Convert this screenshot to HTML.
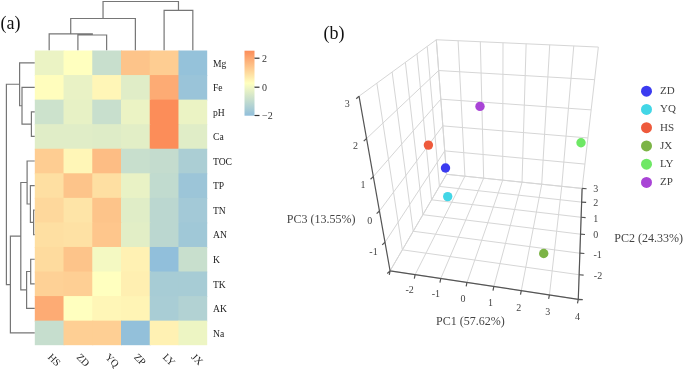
<!DOCTYPE html>
<html><head><meta charset="utf-8"><style>
html,body{margin:0;padding:0;background:#fff;}
body{width:685px;height:369px;overflow:hidden;}
svg{display:block;will-change:transform;}
text{font-family:"Liberation Serif",serif;}
.rl{font-size:9.6px;fill:#222;}
.cl{font-size:10.2px;fill:#222;}
.lt{font-size:10px;fill:#333;}
.pl{font-size:18px;fill:#111;}
.tl{font-size:10px;fill:#444;}
.at{font-size:12px;fill:#444;}
.lg{font-size:11px;fill:#444;}
</style></head><body>
<svg width="685" height="369" viewBox="0 0 685 369">
<rect width="685" height="369" fill="#fff"/>
<rect x="34.80" y="50.50" width="29.73" height="25.56" fill="#ebf3c4"/>
<rect x="63.53" y="50.50" width="29.73" height="25.56" fill="#ffffbf"/>
<rect x="92.27" y="50.50" width="29.73" height="25.56" fill="#c8dfcd"/>
<rect x="121.00" y="50.50" width="29.73" height="25.56" fill="#fdc48a"/>
<rect x="149.73" y="50.50" width="29.73" height="25.56" fill="#fecd92"/>
<rect x="178.47" y="50.50" width="28.73" height="25.56" fill="#95c2da"/>
<rect x="34.80" y="75.06" width="29.73" height="25.56" fill="#fffdbd"/>
<rect x="63.53" y="75.06" width="29.73" height="25.56" fill="#e9f2c5"/>
<rect x="92.27" y="75.06" width="29.73" height="25.56" fill="#fff6b7"/>
<rect x="121.00" y="75.06" width="29.73" height="25.56" fill="#e0edc7"/>
<rect x="149.73" y="75.06" width="29.73" height="25.56" fill="#fdab74"/>
<rect x="178.47" y="75.06" width="28.73" height="25.56" fill="#9ac4d9"/>
<rect x="34.80" y="99.62" width="29.73" height="25.56" fill="#cce2cc"/>
<rect x="63.53" y="99.62" width="29.73" height="25.56" fill="#e7f1c5"/>
<rect x="92.27" y="99.62" width="29.73" height="25.56" fill="#c8dfcd"/>
<rect x="121.00" y="99.62" width="29.73" height="25.56" fill="#ebf3c4"/>
<rect x="149.73" y="99.62" width="29.73" height="25.56" fill="#fc8d59"/>
<rect x="178.47" y="99.62" width="28.73" height="25.56" fill="#ebf3c4"/>
<rect x="34.80" y="124.17" width="29.73" height="25.56" fill="#e0edc7"/>
<rect x="63.53" y="124.17" width="29.73" height="25.56" fill="#e0edc7"/>
<rect x="92.27" y="124.17" width="29.73" height="25.56" fill="#deecc7"/>
<rect x="121.00" y="124.17" width="29.73" height="25.56" fill="#e2eec6"/>
<rect x="149.73" y="124.17" width="29.73" height="25.56" fill="#fc8d59"/>
<rect x="178.47" y="124.17" width="28.73" height="25.56" fill="#e0edc7"/>
<rect x="34.80" y="148.73" width="29.73" height="25.56" fill="#fecd92"/>
<rect x="63.53" y="148.73" width="29.73" height="25.56" fill="#fff6b7"/>
<rect x="92.27" y="148.73" width="29.73" height="25.56" fill="#fdbd84"/>
<rect x="121.00" y="148.73" width="29.73" height="25.56" fill="#c8dfcd"/>
<rect x="149.73" y="148.73" width="29.73" height="25.56" fill="#c4dcce"/>
<rect x="178.47" y="148.73" width="28.73" height="25.56" fill="#abced4"/>
<rect x="34.80" y="173.29" width="29.73" height="25.56" fill="#fedfa2"/>
<rect x="63.53" y="173.29" width="29.73" height="25.56" fill="#fdc48a"/>
<rect x="92.27" y="173.29" width="29.73" height="25.56" fill="#fedfa2"/>
<rect x="121.00" y="173.29" width="29.73" height="25.56" fill="#e9f2c5"/>
<rect x="149.73" y="173.29" width="29.73" height="25.56" fill="#c1dbcf"/>
<rect x="178.47" y="173.29" width="28.73" height="25.56" fill="#9cc5d8"/>
<rect x="34.80" y="197.85" width="29.73" height="25.56" fill="#fed89c"/>
<rect x="63.53" y="197.85" width="29.73" height="25.56" fill="#fee4a7"/>
<rect x="92.27" y="197.85" width="29.73" height="25.56" fill="#fdc48a"/>
<rect x="121.00" y="197.85" width="29.73" height="25.56" fill="#e0edc7"/>
<rect x="149.73" y="197.85" width="29.73" height="25.56" fill="#bbd7d0"/>
<rect x="178.47" y="197.85" width="28.73" height="25.56" fill="#a3c9d7"/>
<rect x="34.80" y="222.41" width="29.73" height="25.56" fill="#fedfa2"/>
<rect x="63.53" y="222.41" width="29.73" height="25.56" fill="#fee1a4"/>
<rect x="92.27" y="222.41" width="29.73" height="25.56" fill="#fec68c"/>
<rect x="121.00" y="222.41" width="29.73" height="25.56" fill="#e2eec6"/>
<rect x="149.73" y="222.41" width="29.73" height="25.56" fill="#bbd7d0"/>
<rect x="178.47" y="222.41" width="28.73" height="25.56" fill="#a0c8d7"/>
<rect x="34.80" y="246.97" width="29.73" height="25.56" fill="#fedb9e"/>
<rect x="63.53" y="246.97" width="29.73" height="25.56" fill="#fdc48a"/>
<rect x="92.27" y="246.97" width="29.73" height="25.56" fill="#f4f9c2"/>
<rect x="121.00" y="246.97" width="29.73" height="25.56" fill="#fff1b3"/>
<rect x="149.73" y="246.97" width="29.73" height="25.56" fill="#91bfdb"/>
<rect x="178.47" y="246.97" width="28.73" height="25.56" fill="#c8dfcd"/>
<rect x="34.80" y="271.52" width="29.73" height="25.56" fill="#fed196"/>
<rect x="63.53" y="271.52" width="29.73" height="25.56" fill="#fecf94"/>
<rect x="92.27" y="271.52" width="29.73" height="25.56" fill="#ffffbf"/>
<rect x="121.00" y="271.52" width="29.73" height="25.56" fill="#ffefb1"/>
<rect x="149.73" y="271.52" width="29.73" height="25.56" fill="#a7ccd5"/>
<rect x="178.47" y="271.52" width="28.73" height="25.56" fill="#a7ccd5"/>
<rect x="34.80" y="296.08" width="29.73" height="25.56" fill="#fdab74"/>
<rect x="63.53" y="296.08" width="29.73" height="25.56" fill="#ffffbf"/>
<rect x="92.27" y="296.08" width="29.73" height="25.56" fill="#fff6b7"/>
<rect x="121.00" y="296.08" width="29.73" height="25.56" fill="#fff4b5"/>
<rect x="149.73" y="296.08" width="29.73" height="25.56" fill="#a9cdd5"/>
<rect x="178.47" y="296.08" width="28.73" height="25.56" fill="#b2d2d3"/>
<rect x="34.80" y="320.64" width="29.73" height="24.56" fill="#c6dece"/>
<rect x="63.53" y="320.64" width="29.73" height="24.56" fill="#fecf94"/>
<rect x="92.27" y="320.64" width="29.73" height="24.56" fill="#fecf94"/>
<rect x="121.00" y="320.64" width="29.73" height="24.56" fill="#93c0da"/>
<rect x="149.73" y="320.64" width="29.73" height="24.56" fill="#fff1b3"/>
<rect x="178.47" y="320.64" width="28.73" height="24.56" fill="#edf5c3"/>
<text x="213" y="66.58" class="rl">Mg</text>
<text x="213" y="91.14" class="rl">Fe</text>
<text x="213" y="115.70" class="rl">pH</text>
<text x="213" y="140.25" class="rl">Ca</text>
<text x="213" y="164.81" class="rl">TOC</text>
<text x="213" y="189.37" class="rl">TP</text>
<text x="213" y="213.93" class="rl">TN</text>
<text x="213" y="238.49" class="rl">AN</text>
<text x="213" y="263.05" class="rl">K</text>
<text x="213" y="287.60" class="rl">TK</text>
<text x="213" y="312.16" class="rl">AK</text>
<text x="213" y="336.72" class="rl">Na</text>
<text transform="translate(51.97,352.9) rotate(45)" class="cl" dy="0.66em">HS</text>
<text transform="translate(80.70,352.9) rotate(45)" class="cl" dy="0.66em">ZD</text>
<text transform="translate(109.43,352.9) rotate(45)" class="cl" dy="0.66em">YQ</text>
<text transform="translate(138.17,352.9) rotate(45)" class="cl" dy="0.66em">ZP</text>
<text transform="translate(166.90,352.9) rotate(45)" class="cl" dy="0.66em">LY</text>
<text transform="translate(195.63,352.9) rotate(45)" class="cl" dy="0.66em">JX</text>
<path d="M77.90,50.30V35.00H106.63V50.30 M49.17,50.30V33.80H92.27V35.00 M70.72,33.80V18.50H135.37V50.30 M164.10,50.30V10.40H192.83V50.30 M103.04,18.50V1.50H178.47V10.40" stroke="#767676" stroke-width="1.2" fill="none"/>
<path d="M34.70,111.90H31.40V136.45H34.70 M34.70,87.34H22.00V124.17H31.40 M34.70,62.78H19.60V105.76H22.00 M34.70,210.13H33.60V234.69H34.70 M34.70,185.57H30.40V222.41H33.60 M34.70,161.01H27.10V203.99H30.40 M34.70,259.25H30.70V283.80H34.70 M30.70,271.52H26.60V308.36H34.70 M27.10,182.50H20.80V289.94H26.60 M20.80,236.22H10.40V332.92H34.70 M19.60,84.27H6.40V284.57H10.40" stroke="#767676" stroke-width="1.2" fill="none"/>
<defs><linearGradient id="lg" x1="0" y1="1" x2="0" y2="0">
<stop offset="0%" stop-color="#91bfdb"/>
<stop offset="5%" stop-color="#9cc5d8"/>
<stop offset="10%" stop-color="#a7ccd5"/>
<stop offset="15%" stop-color="#b2d2d3"/>
<stop offset="20%" stop-color="#bdd9d0"/>
<stop offset="25%" stop-color="#c8dfcd"/>
<stop offset="30%" stop-color="#d3e5ca"/>
<stop offset="35%" stop-color="#deecc7"/>
<stop offset="40%" stop-color="#e9f2c5"/>
<stop offset="45%" stop-color="#f4f9c2"/>
<stop offset="50%" stop-color="#ffffbf"/>
<stop offset="55%" stop-color="#fff4b5"/>
<stop offset="60%" stop-color="#fee8ab"/>
<stop offset="65%" stop-color="#fedda0"/>
<stop offset="70%" stop-color="#fed196"/>
<stop offset="75%" stop-color="#fec68c"/>
<stop offset="80%" stop-color="#fdbb82"/>
<stop offset="85%" stop-color="#fdaf78"/>
<stop offset="90%" stop-color="#fda46d"/>
<stop offset="95%" stop-color="#fc9863"/>
<stop offset="100%" stop-color="#fc8d59"/>
</linearGradient></defs>
<rect x="244.5" y="50.7" width="10" height="65" fill="url(#lg)"/>
<line x1="254.5" x2="259.5" y1="58.2" y2="58.2" stroke="#333" stroke-width="1.2"/>
<text x="262" y="61.6" class="lt">2</text>
<line x1="254.5" x2="259.5" y1="87.2" y2="87.2" stroke="#333" stroke-width="1.2"/>
<text x="262" y="90.60000000000001" class="lt">0</text>
<line x1="254.5" x2="259.5" y1="115.5" y2="115.5" stroke="#333" stroke-width="1.2"/>
<text x="262" y="118.9" class="lt">−2</text>
<text x="0.5" y="28.9" class="pl">(a)</text>
<path d="M446.50,174.29L436.32,39.76 M464.92,176.21L458.12,40.74 M483.65,178.17L480.34,41.74 M502.69,180.16L503.01,42.76 M522.04,182.18L526.13,43.80 M541.73,184.24L549.71,44.86 M561.75,186.33L573.78,45.94 M582.11,188.45L598.35,47.05 M446.50,174.29L582.11,188.45 M444.73,150.88L584.91,164.08 M442.84,125.90L587.91,137.96 M440.82,99.18L591.13,109.90 M438.65,70.54L594.60,79.69 M436.32,39.76L598.35,47.05 M402.35,249.84L376.85,83.18 M413.21,231.25L392.14,72.02 M422.89,214.69L405.39,62.34 M431.58,199.83L416.99,53.88 M439.41,186.43L427.22,46.41 M446.50,174.29L436.32,39.76 M390.08,270.85L446.50,174.29 M385.00,242.31L444.73,150.88 M379.44,211.03L442.84,125.90 M373.32,176.61L440.82,99.18 M366.55,138.53L438.65,70.54 M359.02,96.19L436.32,39.76 M390.08,270.85L446.50,174.29 M415.12,274.63L464.92,176.21 M440.75,278.51L483.65,178.17 M466.97,282.47L502.69,180.16 M493.81,286.53L522.04,182.18 M521.29,290.68L541.73,184.24 M549.44,294.93L561.75,186.33 M578.28,299.29L582.11,188.45 M390.08,270.85L578.28,299.29 M402.35,249.84L579.13,274.73 M413.21,231.25L579.87,253.21 M422.89,214.69L580.53,234.19 M431.58,199.83L581.11,217.27 M439.41,186.43L581.64,202.11 M446.50,174.29L582.11,188.45" stroke="#d6d6d6" stroke-width="1" fill="none"/>
<path d="M390.08,270.85L359.02,96.19 M390.08,270.85L578.28,299.29 M578.28,299.29L582.11,188.45" stroke="#555" stroke-width="1.2" fill="none"/>
<path d="M390.08,270.85l-2.8,2.6 M385.00,242.31l-2.8,2.6 M379.44,211.03l-2.8,2.6 M373.32,176.61l-2.8,2.6 M366.55,138.53l-2.8,2.6 M359.02,96.19l-2.8,2.6 M390.08,270.85l-0.8,4 M415.12,274.63l-0.8,4 M440.75,278.51l-0.8,4 M466.97,282.47l-0.8,4 M493.81,286.53l-0.8,4 M521.29,290.68l-0.8,4 M549.44,294.93l-0.8,4 M578.28,299.29l-0.8,4 M578.28,299.29l4.5,0.3 M579.13,274.73l4.5,0.3 M579.87,253.21l4.5,0.3 M580.53,234.19l4.5,0.3 M581.11,217.27l4.5,0.3 M581.64,202.11l4.5,0.3 M582.11,188.45l4.5,0.3" stroke="#555" stroke-width="1.2" fill="none"/>
<text x="347.3" y="106.60000000000001" class="tl" text-anchor="middle">3</text>
<text x="355.6" y="149.4" class="tl" text-anchor="middle">2</text>
<text x="363" y="188.4" class="tl" text-anchor="middle">1</text>
<text x="369.7" y="223.70000000000002" class="tl" text-anchor="middle">0</text>
<text x="373.5" y="255.0" class="tl" text-anchor="middle">-1</text>
<text x="409.7" y="293.29999999999995" class="tl" text-anchor="middle">-2</text>
<text x="435.8" y="297.4" class="tl" text-anchor="middle">-1</text>
<text x="463" y="301.7" class="tl" text-anchor="middle">0</text>
<text x="490.5" y="306.0" class="tl" text-anchor="middle">1</text>
<text x="518.8" y="310.9" class="tl" text-anchor="middle">2</text>
<text x="547.7" y="314.9" class="tl" text-anchor="middle">3</text>
<text x="577.5" y="319.59999999999997" class="tl" text-anchor="middle">4</text>
<text x="593.2" y="192.4" class="tl">3</text>
<text x="593.2" y="206.4" class="tl">2</text>
<text x="593.2" y="221.6" class="tl">1</text>
<text x="593.2" y="238.20000000000002" class="tl">0</text>
<text x="593.5" y="257.7" class="tl">-1</text>
<text x="593.8" y="279.0" class="tl">-2</text>
<text x="286.8" y="222.8" class="at">PC3 (13.55%)</text>
<text x="614.3" y="241.6" class="at">PC2 (24.33%)</text>
<text x="436.1" y="324.9" class="at">PC1 (57.62%)</text>
<text x="323.5" y="38.6" class="pl">(b)</text>
<circle cx="428.4" cy="145.1" r="4.7" fill="#ee5a3c"/>
<circle cx="445.5" cy="168" r="4.7" fill="#3b3bf0"/>
<circle cx="447.7" cy="196.6" r="4.7" fill="#42d6e6"/>
<circle cx="480" cy="106.4" r="4.7" fill="#a944d6"/>
<circle cx="581" cy="142.7" r="4.7" fill="#6ee865"/>
<circle cx="543.7" cy="253.5" r="4.7" fill="#7cb446"/>
<circle cx="646.5" cy="91.20" r="5.5" fill="#3b3bf0"/>
<text x="660" y="94.10" class="lg">ZD</text>
<circle cx="646.5" cy="109.45" r="5.5" fill="#42d6e6"/>
<text x="660" y="112.35" class="lg">YQ</text>
<circle cx="646.5" cy="127.70" r="5.5" fill="#ee5a3c"/>
<text x="660" y="130.60" class="lg">HS</text>
<circle cx="646.5" cy="145.95" r="5.5" fill="#7cb446"/>
<text x="660" y="148.85" class="lg">JX</text>
<circle cx="646.5" cy="164.20" r="5.5" fill="#6ee865"/>
<text x="660" y="167.10" class="lg">LY</text>
<circle cx="646.5" cy="182.45" r="5.5" fill="#a944d6"/>
<text x="660" y="185.35" class="lg">ZP</text>
</svg>
</body></html>
